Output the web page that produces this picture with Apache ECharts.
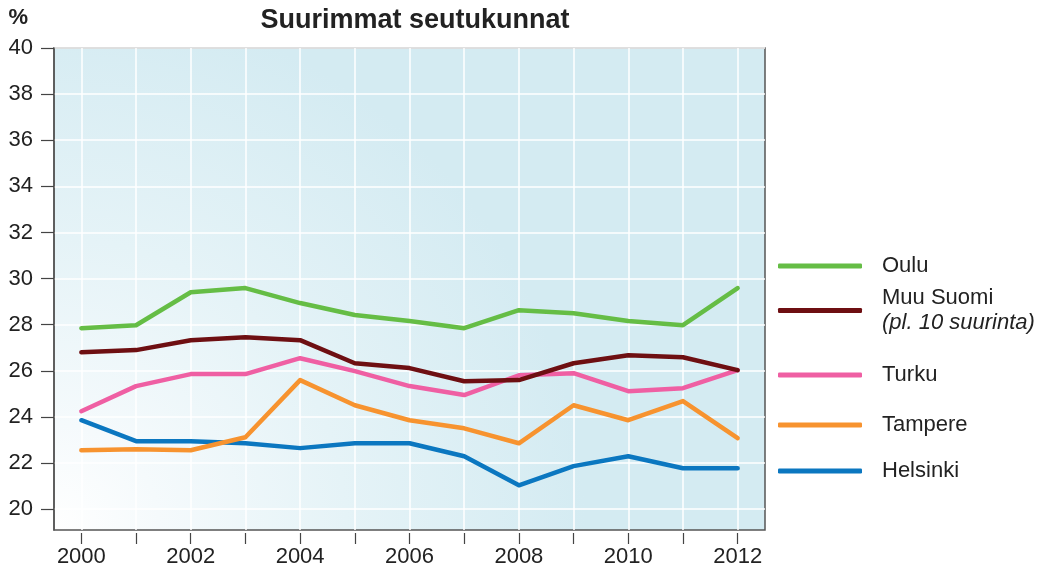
<!DOCTYPE html>
<html>
<head>
<meta charset="utf-8">
<script src="https://cdn.jsdelivr.net/npm/echarts@6/dist/echarts.min.js"></script>
<style>
  html, body { margin: 0; padding: 0; background: #fff; }
  #chart { width: 1050px; height: 580px; }
</style>
</head>
<body>
<div id="chart"></div>
<script>
var years = ['2000', '2001', '2002', '2003', '2004', '2005', '2006', '2007', '2008', '2009', '2010', '2011', '2012'];
var yTicks = [20, 22, 24, 26, 28, 30, 32, 34, 36, 38, 40];

var oulu     = [27.85, 27.98, 29.41, 29.59, 28.94, 28.42, 28.16, 27.85, 28.63, 28.5, 28.16, 27.98, 29.59];
var muuSuomi = [26.81, 26.9, 27.33, 27.46, 27.33, 26.33, 26.12, 25.55, 25.6, 26.33, 26.68, 26.59, 26.03];
var turku    = [24.25, 25.34, 25.86, 25.86, 26.55, 25.99, 25.34, 24.95, 25.81, 25.9, 25.12, 25.25, 26.03];
var tampere  = [22.56, 22.6, 22.56, 23.12, 25.6, 24.51, 23.86, 23.51, 22.86, 24.51, 23.86, 24.69, 23.08];
var helsinki = [23.86, 22.95, 22.95, 22.86, 22.65, 22.86, 22.86, 22.3, 21.04, 21.87, 22.3, 21.78, 21.78];

var seriesNames = ['Oulu', 'Muu Suomi', 'Turku', 'Tampere', 'Helsinki'];
var seriesData = [oulu, muuSuomi, turku, tampere, helsinki];
var colors = ['#65bd45', '#6e0f12', '#ef5fa3', '#f7932f', '#0b77c0'];
var legendTops = [255, 287, 364, 414, 460];

var chart = echarts.init(document.getElementById('chart'), null, { renderer: 'canvas' });

var option = {
  textStyle: { fontFamily: 'Liberation Sans, Arial, sans-serif' },
  animation: false,
  title: {
    text: 'Suurimmat seutukunnat',
    left: 410,
    textAlign: 'center',
    top: 2,
    textStyle: { fontSize: 27, fontWeight: 'bold', color: '#222' }
  },
  legend: seriesNames.map(function (name, i) {
    return {
      data: [name],
      left: 778,
      top: legendTops[i],
      padding: 0,
      orient: 'vertical',
      icon: 'roundRect',
      itemWidth: 84,
      itemHeight: 5,
      selectedMode: false,
      formatter: function (n) {
        if (n === 'Muu Suomi') return '{a|Muu Suomi}\n{b|(pl. 10 suurinta)}';
        return n;
      },
      textStyle: {
        fontSize: 22,
        color: '#222',
        padding: [0, 0, 0, 15],
        rich: {
          a: { fontSize: 22, color: '#222', lineHeight: 25 },
          b: { fontSize: 22, color: '#222', fontStyle: 'italic', lineHeight: 25 }
        }
      }
    };
  }),
  grid: {
    left: 54,
    right: 285,
    top: 48,
    bottom: 50,
    show: true,
    borderColor: '#555',
    borderWidth: 1.5,
    backgroundColor: {
      type: 'radial',
      x: 0, y: 1, r: 1.1,
      colorStops: [
        { offset: 0, color: '#ffffff' },
        { offset: 0.2, color: '#f5fafc' },
        { offset: 0.55, color: '#e5f3f7' },
        { offset: 1, color: '#d4ebf2' }
      ]
    }
  },
  xAxis: {
    type: 'category',
    data: years,
    boundaryGap: true,
    offset: 3,
    axisLine: { show: false },
    axisTick: { show: true, alignWithLabel: true, interval: 0, length: 11, lineStyle: { color: '#444', width: 1.2 } },
    axisLabel: { interval: 1, fontSize: 22, color: '#222', margin: 13 },
    splitLine: { show: true, alignWithLabel: true, interval: 0, lineStyle: { color: '#ffffff', width: 1.5 } }
  },
  yAxis: {
    type: 'value',
    min: 19.1,
    max: 40,
    name: '%',
    nameLocation: 'end',
    nameGap: 19,
    nameTextStyle: { fontSize: 22, fontWeight: 'bold', color: '#222', align: 'right', padding: [0, 26, 0, 0] },
    axisLine: { show: true, lineStyle: { color: '#555', width: 1.5 } },
    axisTick: { show: true, customValues: yTicks, length: 13, lineStyle: { color: '#444', width: 1.2 } },
    axisLabel: { customValues: yTicks, fontSize: 22, color: '#222', margin: 21 },
    splitLine: { show: true, customValues: yTicks, lineStyle: { color: '#ffffff', width: 1.5 } }
  },
  series: seriesNames.map(function (name, i) {
    return {
      name: name,
      type: 'line',
      data: seriesData[i],
      symbol: 'none',
      color: colors[i],
      lineStyle: { width: 4.5, color: colors[i], cap: 'round', join: 'round' },
      z: 10 - i
    };
  })
};

chart.setOption(option);
</script>
</body>
</html>
